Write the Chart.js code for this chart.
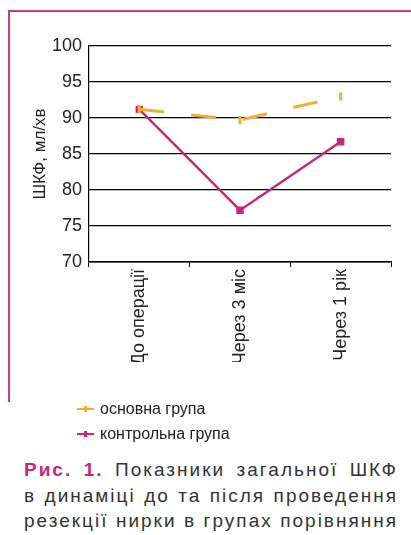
<!DOCTYPE html>
<html>
<head>
<meta charset="utf-8">
<script src="https://cdn.jsdelivr.net/npm/chart.js@4"></script>
<style>
  body { margin: 0; background: #fff; width: 411px; height: 535px; position: relative; overflow: hidden; font-family: "Liberation Sans", Arial, sans-serif; }
  #frameTop { position: absolute; left: 8px; top: 10px; width: 403px; height: 2px; background: #c63d80; }
  #frameLeft { position: absolute; left: 8px; top: 10px; width: 2px; height: 392px; background: #c63d80; }
  #wrap { position: absolute; left: 0; top: 0; width: 411px; height: 400px; }
  #legend { position: absolute; left: 77px; top: 396px; font-size: 16px; color: #222; line-height: 25px; }
  #legend .mk { display: inline-block; width: 17px; height: 2px; vertical-align: middle; margin-right: 6px; position: relative; top: -1px; }
  #legend .mk i { position: absolute; left: 7px; top: -2px; width: 3px; height: 6px; }
  #caption { position: absolute; left: 24px; top: 457px; width: 374px; font-size: 19px; line-height: 25.5px; color: #333; letter-spacing: 2px; }
  #caption div { text-align: justify; text-align-last: justify; white-space: nowrap; }
  #caption b { color: #c6287e; }
</style>
</head>
<body>
<div id="frameTop"></div>
<div id="frameLeft"></div>
<div id="wrap"><canvas id="chart"></canvas></div>
<div id="legend"></div>
<div id="caption">
  <div><b>Рис. 1.</b> Показники загальної ШКФ</div>
  <div>в динаміці до та після проведення</div>
  <div>резекції нирки в групах порівняння</div>
</div>
<script>
const categories = ["До операції", "Через 3 міс", "Через 1 рік"];
const mainGroup = [91.2, 89.7, 93.0];
const controlGroup = [91.2, 77.2, 86.7];
const yTicks = [70, 75, 80, 85, 90, 95, 100];
const seriesNames = ["основна група", "контрольна група"];
const seriesColors = ["#f0b030", "#c6287e"];

const legend = document.getElementById("legend");
seriesNames.forEach((name, i) => {
  const row = document.createElement("div");
  row.innerHTML = `<span class="mk" style="background:${seriesColors[i]}"><i style="background:${seriesColors[i]}"></i></span>${name}`;
  legend.appendChild(row);
});

const ctx = document.getElementById("chart").getContext("2d");
new Chart(ctx, {
  type: "line",
  data: {
    labels: categories,
    datasets: [
      {
        label: seriesNames[0],
        data: mainGroup,
        borderColor: seriesColors[0],
        backgroundColor: seriesColors[0],
        borderWidth: 3,
        borderDash: [25, 27],
        pointStyle: "line",
        rotation: 90,
        pointRadius: 4,
        pointBorderWidth: 3,
        tension: 0
      },
      {
        label: seriesNames[1],
        data: controlGroup,
        borderColor: seriesColors[1],
        backgroundColor: seriesColors[1],
        borderWidth: 2.5,
        pointStyle: "rect",
        pointRadius: 3.5,
        tension: 0
      }
    ]
  },
  options: {
    responsive: true,
    maintainAspectRatio: false,
    animation: false,
    layout: { padding: { left: 30, top: 46, right: 20, bottom: 38 } },
    plugins: {
      legend: { display: false },
      tooltip: { enabled: false }
    },
    scales: {
      x: {
        offset: true,
        afterFit: s => { s.height = 100; },
        grid: { display: true, drawOnChartArea: false, drawTicks: true, tickLength: 5, color: "#000", offset: true },
        border: { display: true, color: "#000", width: 1.5 },
        ticks: { minRotation: 90, maxRotation: 90, color: "#222", font: { family: "Liberation Sans", size: 18 }, padding: 2 },
      },
      y: {
        min: 70,
        max: 100,
        afterFit: s => { s.width = 59; },
        afterBuildTicks: s => { s.ticks = yTicks.map(v => ({ value: v })); },
        grid: { color: "#000", lineWidth: 1.2, drawTicks: false },
        border: { display: true, color: "#000", width: 1.2 },
        ticks: { color: "#222", font: { family: "Liberation Sans", size: 18 }, padding: 7 },
        title: { display: true, text: "ШКФ, мл/хв", color: "#222", font: { family: "Liberation Sans", size: 17 }, padding: { top: 0, bottom: 0 } }
      }
    }
  }
});
</script>
</body>
</html>
